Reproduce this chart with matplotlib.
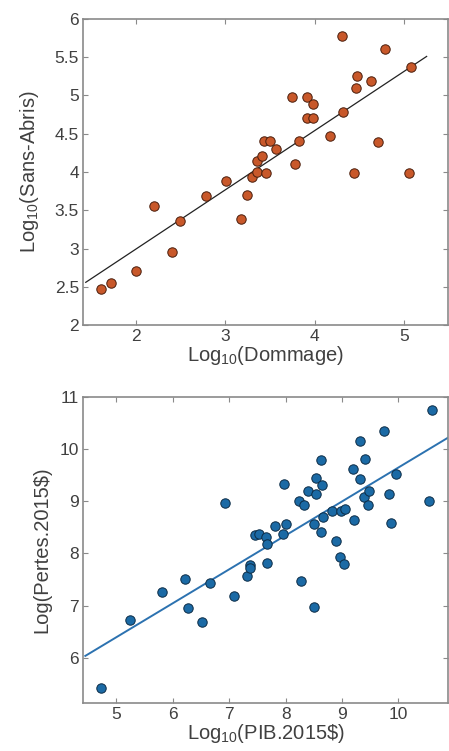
import numpy as np
import matplotlib
matplotlib.use("Agg")
import matplotlib.pyplot as plt

plt.rcParams["font.family"] = ["Liberation Sans", "DejaVu Sans"]
plt.rcParams["mathtext.default"] = "regular"

# top panel: log10 damage vs log10 homeless
dommage = [1.61, 1.72, 2.00, 2.20, 2.40, 2.49, 2.78, 3.01, 3.18, 3.24,
           3.30, 3.35, 3.46, 3.35, 3.41, 3.43, 3.50, 3.57, 3.78, 3.82,
           3.75, 3.91, 3.98, 3.91, 3.98, 4.17, 4.31, 4.30, 4.44, 4.46,
           4.47, 4.63, 4.71, 4.79, 5.05, 5.08]
sans_abris = [2.47, 2.55, 2.71, 3.55, 2.95, 3.36, 3.68, 3.88, 3.39, 3.70,
              3.93, 4.00, 3.99, 4.14, 4.21, 4.40, 4.40, 4.30, 4.11, 4.40,
              4.98, 4.98, 4.89, 4.70, 4.70, 4.47, 4.78, 5.78, 3.99, 5.10,
              5.25, 5.19, 4.39, 5.60, 3.99, 5.37]
fit_top = (0.774, 1.445)      # slope, intercept
fit_top_x = (1.44, 5.25)

# bottom panel: log10 GDP vs log losses
pib = [4.72, 5.24, 5.81, 6.22, 6.27, 6.52, 6.66, 6.92, 7.08, 7.32,
       7.36, 7.36, 7.45, 7.53, 7.65, 7.67, 7.67, 7.81, 7.96, 7.97,
       8.01, 8.24, 8.28, 8.32, 8.40, 8.50, 8.51, 8.53, 8.53, 8.63,
       8.63, 8.65, 8.66, 8.83, 8.90, 8.97, 8.99, 9.03, 9.06, 9.19,
       9.21, 9.31, 9.31, 9.39, 9.40, 9.46, 9.47, 9.74, 9.84, 9.86,
       9.95, 10.55, 10.60]
pertes = [5.43, 6.72, 7.26, 7.51, 6.95, 6.69, 7.43, 8.97, 7.18, 7.57,
          7.77, 7.71, 8.36, 8.38, 8.31, 8.18, 7.82, 8.52, 8.38, 9.33,
          8.57, 9.00, 7.48, 8.93, 9.20, 6.97, 8.56, 9.45, 9.13, 9.78,
          8.41, 9.30, 8.70, 8.81, 8.24, 7.93, 8.81, 7.79, 8.84, 9.61,
          8.63, 10.15, 9.42, 9.08, 9.81, 8.93, 9.20, 10.34, 9.14, 8.58,
          9.51, 9.00, 10.74]
fit_bot = (0.650, 3.144)
fit_bot_x = (4.45, 10.88)

TXT = "#404040"
SPINE = "#8a8a8a"


def style_ax(ax):
    for s in ax.spines.values():
        s.set_color(SPINE)
        s.set_linewidth(1.2)
    ax.tick_params(direction="in", top=True, right=True, length=3.5,
                   width=0.8, color=SPINE, labelsize=12.5, labelcolor=TXT,
                   pad=3)


fig = plt.figure(figsize=(4.49, 7.51), dpi=100)

ax1 = fig.add_axes([0.185, 0.567, 0.813, 0.408])
x = np.array(fit_top_x)
ax1.plot(x, fit_top[0] * x + fit_top[1], color="#222222", lw=0.9, zorder=2)
ax1.scatter(dommage, sans_abris, s=46, color="#c8582a", edgecolor="#4a1e0c",
            linewidth=0.7, zorder=3)
ax1.set_xlim(1.41, 5.49)
ax1.set_ylim(2, 6)
ax1.set_xticks([2, 3, 4, 5])
ax1.set_yticks([2, 2.5, 3, 3.5, 4, 4.5, 5, 5.5, 6])
ax1.set_yticklabels(["2", "2.5", "3", "3.5", "4", "4.5", "5", "5.5", "6"])
ax1.set_xlabel("Log$_{10}$(Dommage)", fontsize=14.5, color=TXT, labelpad=0)
ax1.set_ylabel("Log$_{10}$(Sans-Abris)", fontsize=14.5, color=TXT, labelpad=10)
style_ax(ax1)

ax2 = fig.add_axes([0.185, 0.0643, 0.813, 0.4075])
x = np.array(fit_bot_x)
ax2.plot(x, fit_bot[0] * x + fit_bot[1], color="#2c72b0", lw=1.4, zorder=2)
ax2.scatter(pib, pertes, s=46, color="#1b6aa5", edgecolor="#0c2c46",
            linewidth=0.7, zorder=3)
ax2.set_xlim(4.41, 10.88)
ax2.set_ylim(5.14, 11)
ax2.set_xticks([5, 6, 7, 8, 9, 10])
ax2.set_yticks([6, 7, 8, 9, 10, 11])
ax2.set_xlabel("Log$_{10}$(PIB.2015\\$)", fontsize=14.5, color=TXT, labelpad=0)
ax2.set_ylabel("Log(Pertes.2015\\$)", fontsize=14.5, color=TXT, labelpad=6)
style_ax(ax2)

fig.savefig("out.png", dpi=100)
